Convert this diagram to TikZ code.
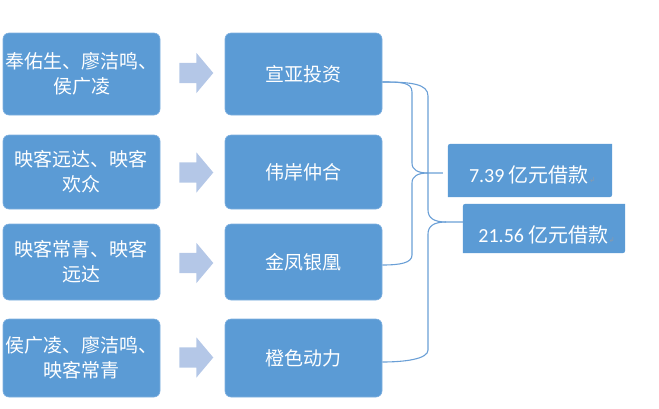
\documentclass[tikz,border=0pt]{standalone}
\usepackage{fontspec}
\setmainfont{Carlito}
\newfontfamily\cjk{Noto Sans CJK SC}
\newfontfamily\symfont{DejaVu Sans}
\usetikzlibrary{shapes.arrows,calc}
\definecolor{boxblue}{HTML}{5B9BD5}
\definecolor{boxedge}{HTML}{7FB0E0}
\definecolor{arrowblue}{HTML}{B4C7E7}
\definecolor{linkblue}{HTML}{6A9FD6}
\definecolor{retgray}{HTML}{8C9AAA}
\begin{document}
\begin{tikzpicture}[x=1pt,y=-1pt,
  bbox/.style={draw=boxedge, fill=boxblue, rounded corners=6pt, line width=0.6pt,
    minimum width=157pt, text=white, align=center, inner sep=0pt,
    font=\cjk\fontsize{19}{25}\selectfont},
  barrow/.style={single arrow, fill=arrowblue, draw=none, inner xsep=0pt, inner ysep=0pt,
    minimum width=40pt, minimum height=34pt, single arrow head extend=10pt,
    single arrow tip angle=100},
  link/.style={draw=linkblue, line width=1.1pt},
  rtext/.style={text=white, inner sep=0pt, font=\fontsize{20}{24}\selectfont},
  retmark/.style={text=retgray, inner sep=0pt, font=\symfont\fontsize{7}{7}\selectfont}
]
\useasboundingbox (0,0) rectangle (659,408);

% left boxes
\node[bbox, minimum height=82pt] (l1) at (81.5,74) {奉佑生、廖洁鸣、\\侯广凌};
\node[bbox, minimum height=74pt] (l2) at (81.5,172) {映客远达、映客\\欢众};
\node[bbox, minimum height=76pt] (l3) at (81.5,262) {映客常青、映客\\远达};
\node[bbox, minimum height=78pt] (l4) at (81.5,358) {侯广凌、廖洁鸣、\\映客常青};

% arrows
\node[barrow] (a1) at (192,73) {\rule{0pt}{20pt}};
\node[barrow] (a2) at (192,172.5) {\rule{0pt}{20pt}};
\node[barrow] (a3) at (192,263) {\rule{0pt}{20pt}};
\node[barrow] (a4) at (192,357.5) {\rule{0pt}{20pt}};

% middle boxes
\node[bbox, minimum height=82pt] (m1) at (303.5,74) {宣亚投资};
\node[bbox, minimum height=74pt] (m2) at (303.5,172) {伟岸仲合};
\node[bbox, minimum height=76pt] (m3) at (303.5,262) {金凤银凰};
\node[bbox, minimum height=78pt] (m4) at (303.5,358) {橙色动力};

% right boxes
\node[inner sep=0pt, minimum width=164pt, minimum height=53pt] (r1) at (530,170.5) {};
\node[inner sep=0pt, minimum width=162pt, minimum height=49pt] (r2) at (544,228.5) {};
\foreach \r in {r1,r2}{
  \fill[boxblue] (\r.south west) -- ($(\r.north west)+(0,6)$) .. controls (\r.north west) .. ($(\r.north west)+(6,0)$)
    -- (\r.north east) -- ($(\r.south east)+(0,-6)$) .. controls (\r.south east) .. ($(\r.south east)+(-6,0)$) -- cycle;
}
\node[rtext] (t1) at (529,175) {7.39 {\cjk 亿元借款}};
\node[retmark, anchor=base west] (e1) at (t1.base east) {↲};
\node[rtext] (t2) at (543.5,235) {21.56 {\cjk 亿元借款}};
\node[retmark, anchor=base west] (e2) at (t2.base east) {↲};

% connection points
\coordinate (p1) at ($(m1.east)+(0,8)$);
\coordinate (p3) at ($(m3.east)+(0,3)$);
\coordinate (p4) at ($(m4.east)+(0,4)$);
\coordinate (q1) at ($(r1.west)+(-5,2.5)$);
\coordinate (q2) at ($(r2.west)+(0,-6.5)$);

% bracket to 7.39
\draw[link] (p1) .. controls (400,82) and (412,82) .. (412,92) -- (412,163)
  .. controls (412,170) and (418,173) .. (428,173) -- (q1);
\draw[link] (428,173) .. controls (418,173) and (412,176) .. (412,183) -- (412,255)
  .. controls (412,263) and (400,265) .. (p3);

% bracket to 21.56
\draw[link] (p1) .. controls (412,82) and (428,84) .. (428,96) -- (428,210)
  .. controls (428,218) and (434,222) .. (446,222) -- (q2);
\draw[link] (446,222) .. controls (434,222) and (428,226) .. (428,234) -- (428,350)
  .. controls (428,359) and (405,362) .. (p4);
\end{tikzpicture}
\end{document}
